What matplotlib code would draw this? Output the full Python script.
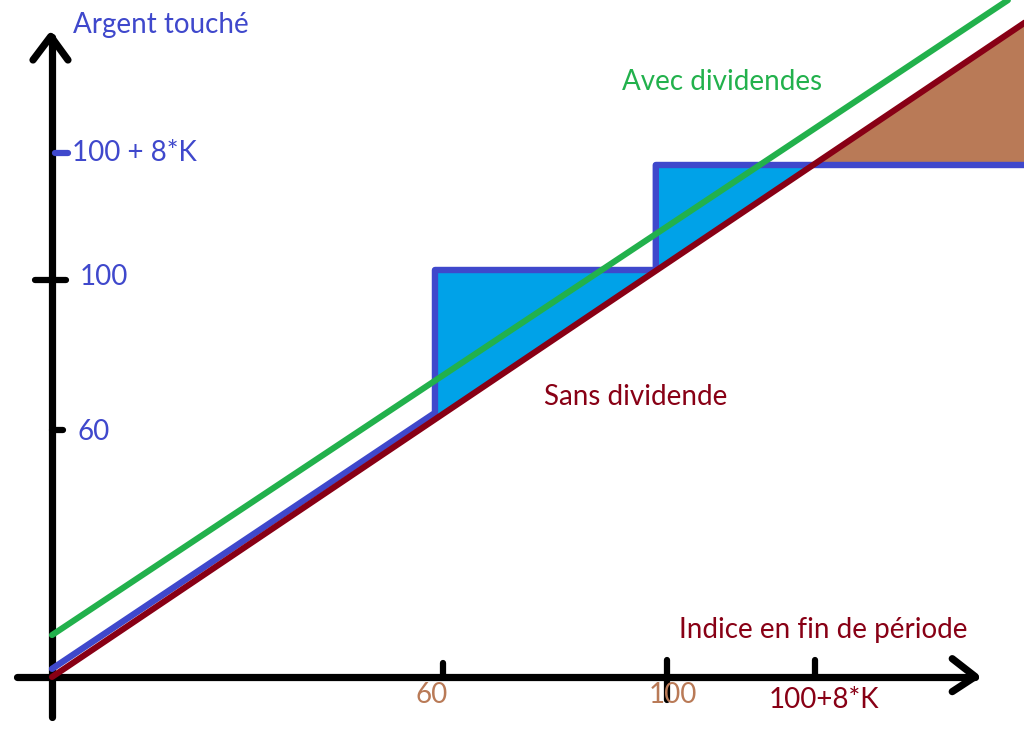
import numpy as np
import matplotlib
matplotlib.use("Agg")
import matplotlib.pyplot as plt

plt.rcParams['font.family'] = ['Lato', 'DejaVu Sans']

# ---- data (chart units: index on x, money received on y) ----
sans_x = [0.0, 165.0]          # "Sans dividende" : payoff = index
sans_y = [0.0, 165.0]
avec_x = [0.0, 158.0]          # "Avec dividendes"
avec_y = [10.3, 166.3]
blue_x = [0.0, 63.3, 63.3, 99.8, 99.8, 165.0]   # step payoff
blue_y = [2.0, 64.9, 100.0, 100.0, 125.8, 125.8]
gain_x = [63.3, 99.8, 99.8, 125.8]               # blue above red
gain_top = [100.0, 100.0, 125.8, 125.8]
loss_x = [125.8, 165.0]                          # red above blue
loss_bot = [125.8, 125.8]

xtick_pos = [64.6, 101.7, 126.1]
xtick_labels = ['60', '100', '100+8*K']
ytick_pos = [60.7, 97.5, 128.7]
ytick_labels = ['60', '100', '100 + 8*K']

BLUE = '#3f48cc'
RED = '#880015'
GREEN = '#22b14c'
CYAN = '#00a2e8'
BROWN = '#b97a57'

fig = plt.figure(figsize=(10.24, 7.29), dpi=100)
ax = fig.add_axes([0, 0, 1, 1])
ax.set_xlim(-8.595, 160.66)
ax.set_ylim(-12.78, 166.34)
ax.axis('off')

# fills
ax.fill_between(gain_x, np.interp(gain_x, sans_x, sans_y), gain_top,
                color=CYAN, lw=0, zorder=1)
ax.fill_between(loss_x, loss_bot, np.interp(loss_x, sans_x, sans_y),
                color=BROWN, lw=0, zorder=1)

# axes (hand-drawn style)
lw_ax = 5.2
ax.plot([0, 0], [-9.8, 157.2], color='black', lw=lw_ax, solid_capstyle='round', zorder=2)
ax.plot([-3.14, -0.2, 2.64], [151.6, 157.4, 151.6], color='black', lw=lw_ax,
        solid_capstyle='round', solid_joinstyle='round', zorder=2)
ax.plot([-5.8, 152.6], [0, 0], color='black', lw=lw_ax, solid_capstyle='round', zorder=2)
ax.plot([148.8, 152.6, 148.8], [4.5, 0.1, -3.6], color='black', lw=lw_ax,
        solid_capstyle='round', solid_joinstyle='round', zorder=2)

# y ticks
ax.plot([0.5, 2.6], [ytick_pos[2]] * 2, color=BLUE, lw=4.5, solid_capstyle='round', zorder=3)
ax.plot([-2.8, 2.3], [ytick_pos[1]] * 2, color='black', lw=4.5, solid_capstyle='round', zorder=3)
ax.plot([0, 1.8], [ytick_pos[0]] * 2, color='black', lw=4.5, solid_capstyle='round', zorder=3)
# x ticks
ax.plot([xtick_pos[0]] * 2, [0, 3.4], color='black', lw=4.5, solid_capstyle='round', zorder=3)
ax.plot([xtick_pos[1]] * 2, [-5.6, 4.2], color='black', lw=4.5, solid_capstyle='round', zorder=3)
ax.plot([xtick_pos[2]] * 2, [0, 4.2], color='black', lw=4.5, solid_capstyle='round', zorder=3)

# lines
ax.plot(blue_x, blue_y, color=BLUE, lw=4.6, solid_capstyle='round',
        solid_joinstyle='round', zorder=4)
ax.plot(sans_x, sans_y, color=RED, lw=4.4, solid_capstyle='round', zorder=5)
ax.plot(avec_x, avec_y, color=GREEN, lw=4.4, solid_capstyle='round', zorder=6)

fs = 20
# y tick labels
yoff = [(25, -2), (28, 3), (20, 0)]
for p, lab, (dx, dy) in zip(ytick_pos, ytick_labels, yoff):
    ax.annotate(lab, (0, p), xytext=(dx, dy), textcoords='offset pixels',
                color=BLUE, fontsize=fs, ha='left', va='center', zorder=7)
# x tick labels
xcol = [BROWN, BROWN, RED]
xoff = [(-11, -18), (6, -18), (9, -23)]
for p, lab, c, (dx, dy) in zip(xtick_pos, xtick_labels, xcol, xoff):
    ax.annotate(lab, (p, 0), xytext=(dx, dy), textcoords='offset pixels',
                color=c, fontsize=fs, ha='center', va='center', zorder=7)

# titles / annotations
ax.annotate('Argent touché', (0, 0), xycoords='figure pixels',
            xytext=(73, 729 - 25), textcoords='figure pixels',
            color=BLUE, fontsize=fs, ha='left', va='center')
ax.annotate('Indice en fin de période', (0, 0), xycoords='figure pixels',
            xytext=(823, 729 - 630), textcoords='figure pixels',
            color=RED, fontsize=fs, ha='center', va='center')
ax.annotate('Sans dividende', (0, 0), xycoords='figure pixels',
            xytext=(636, 729 - 397), textcoords='figure pixels',
            color=RED, fontsize=fs, ha='center', va='center')
ax.annotate('Avec dividendes', (0, 0), xycoords='figure pixels',
            xytext=(722, 729 - 82), textcoords='figure pixels',
            color=GREEN, fontsize=fs, ha='center', va='center')

fig.savefig('out.png', dpi=100, facecolor='white')
